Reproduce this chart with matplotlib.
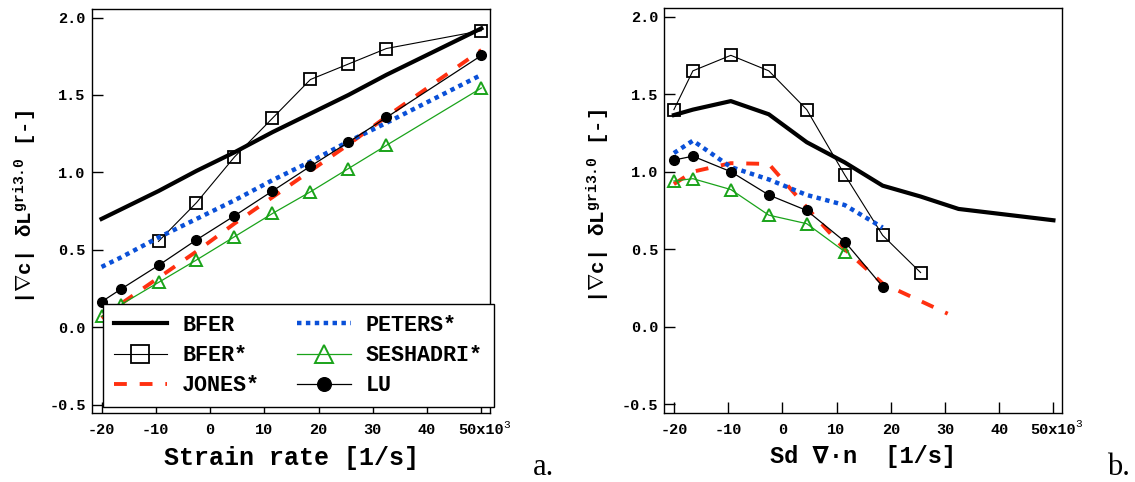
import matplotlib
matplotlib.use("Agg")
import matplotlib.pyplot as plt

# ---------------------------------------------------------------
# Data (x in 10^3 1/s)
# ---------------------------------------------------------------
x_pts = [-20, -16.5, -9.5, -2.5, 4.5, 11.5, 18.5, 25.5, 32.5, 50]

# panel a: strain rate
bfer_a = [0.70, 0.76, 0.88, 1.01, 1.13, 1.26, 1.38, 1.50, 1.63, 1.93]
bfer_star_a_x = [-9.5, -2.5, 4.5, 11.5, 18.5, 25.5, 32.5, 50]
bfer_star_a = [0.555, 0.805, 1.10, 1.35, 1.60, 1.70, 1.80, 1.915]
peters_a = [0.39, 0.45, 0.58, 0.70, 0.82, 0.95, 1.07, 1.20, 1.32, 1.63]
jones_a = [0.06, 0.15, 0.32, 0.49, 0.67, 0.84, 1.01, 1.18, 1.36, 1.79]
seshadri_a = [0.07, 0.145, 0.29, 0.435, 0.585, 0.735, 0.875, 1.025, 1.175, 1.545]
lu_a = [0.165, 0.245, 0.40, 0.565, 0.72, 0.88, 1.04, 1.195, 1.355, 1.755]

# panel b: Sd div(n)
bfer_b = [1.365, 1.40, 1.455, 1.37, 1.19, 1.06, 0.91, 0.84, 0.76, 0.687]
bfer_star_b_x = [-20, -16.5, -9.5, -2.5, 4.5, 11.5, 18.5, 25.5]
bfer_star_b = [1.40, 1.65, 1.75, 1.65, 1.40, 0.98, 0.59, 0.35]
peters_b_x = [-20, -16.5, -9.5, -2.5, 4.5, 11.5, 18.5]
peters_b = [1.12, 1.20, 1.03, 0.95, 0.85, 0.785, 0.64]
jones_b_x = [-20, -16.5, -9.5, -2.5, 4.5, 11.5, 18.5, 30.5]
jones_b = [0.92, 1.00, 1.055, 1.05, 0.77, 0.50, 0.28, 0.085]
seshadri_b_x = [-20, -16.5, -9.5, -2.5, 4.5, 11.5]
seshadri_b = [0.94, 0.955, 0.885, 0.72, 0.665, 0.485]
lu_b_x = [-20, -16.5, -9.5, -2.5, 4.5, 11.5, 18.5]
lu_b = [1.075, 1.10, 1.00, 0.85, 0.75, 0.55, 0.26]

x_ticks = [-20, -10, 0, 10, 20, 30, 40, 50]
x_ticklabels = ["-20", "-10", "0", "10", "20", "30", "40", "50x10"]
y_ticks = [-0.5, 0.0, 0.5, 1.0, 1.5, 2.0]

# ---------------------------------------------------------------
# Style
# ---------------------------------------------------------------
plt.rcParams["font.family"] = ["Liberation Mono", "DejaVu Sans"]
plt.rcParams["font.weight"] = "bold"
plt.rcParams["axes.labelweight"] = "bold"
plt.rcParams["mathtext.fontset"] = "custom"
plt.rcParams["mathtext.rm"] = "Liberation Mono"
plt.rcParams["mathtext.it"] = "Liberation Mono"
plt.rcParams["mathtext.bf"] = "Liberation Mono:bold"
plt.rcParams["mathtext.fallback"] = "cm"
plt.rcParams["axes.unicode_minus"] = False
plt.rcParams["axes.linewidth"] = 1.0

BLUE = "#0a50d8"
RED = "#ff3010"
GREEN = "#1aa31a"

ylab = "|$\\nabla$c| δL$^{\\mathrm{gri3.0}}$ [-]"

fig = plt.figure(figsize=(11.35, 4.82), dpi=100)
ax_a = fig.add_axes([0.0811, 0.1425, 0.3509, 0.8388])
ax_b = fig.add_axes([0.5854, 0.1432, 0.3506, 0.8402])


def draw_panel(ax, d):
    ax.plot(d["bfer"][0], d["bfer"][1], color="black", lw=3.0, label="BFER")
    ax.plot(d["bfer_star"][0], d["bfer_star"][1], color="black", lw=0.8,
            marker="s", ms=9, mfc="none", mec="black", mew=1.3, label="BFER*")
    ax.plot(d["jones"][0], d["jones"][1], color=RED, lw=2.8,
            dashes=(3.3, 3.3), label="JONES*")
    ax.plot(d["peters"][0], d["peters"][1], color=BLUE, lw=3.2,
            dashes=(1, 1), label="PETERS*")
    ax.plot(d["seshadri"][0], d["seshadri"][1], color=GREEN, lw=0.9,
            marker="^", ms=9, mfc="none", mec=GREEN, mew=1.4, label="SESHADRI*")
    ax.plot(d["lu"][0], d["lu"][1], color="black", lw=0.9,
            marker="o", ms=7, mfc="black", mec="black", label="LU")

    ax.set_xlim(-21.75, 51.65)
    ax.set_ylim(-0.555, 2.055)
    ax.set_xticks(x_ticks)
    ax.set_xticklabels(x_ticklabels)
    ax.set_yticks(y_ticks)
    ax.set_yticklabels(["%.1f" % v for v in y_ticks])
    ax.tick_params(axis="both", direction="in", length=7.6, width=1.0,
                   labelsize=11)
    ax.tick_params(axis="x", pad=7)
    ax.tick_params(axis="y", pad=4.6)
    # superscript of the x10^3 multiplier on the last tick label
    ax.annotate("3", xy=(50, 0), xycoords=("data", "axes fraction"),
                xytext=(15.5, -4.5), textcoords="offset points",
                fontsize=8, weight="normal", ha="left", va="top")
    ax.set_ylabel(ylab, fontsize=15)
    ax.yaxis.set_label_coords(-0.133, 0.511)
    ax.xaxis.set_label_coords(0.514, -0.08)


draw_panel(ax_a, dict(bfer=(x_pts, bfer_a), bfer_star=(bfer_star_a_x, bfer_star_a),
                      jones=(x_pts, jones_a), peters=(x_pts, peters_a),
                      seshadri=(x_pts, seshadri_a), lu=(x_pts, lu_a)))
draw_panel(ax_b, dict(bfer=(x_pts, bfer_b), bfer_star=(bfer_star_b_x, bfer_star_b),
                      jones=(jones_b_x, jones_b), peters=(peters_b_x, peters_b),
                      seshadri=(seshadri_b_x, seshadri_b), lu=(lu_b_x, lu_b)))

ax_a.set_xlabel("Strain rate [1/s]", fontsize=18)
ax_b.set_xlabel("Sd ∇·n  [1/s]", fontsize=17)

leg = ax_a.legend(loc="upper left", bbox_to_anchor=(0.0265, 0.270), ncol=2,
                  fontsize=15.7, handlelength=2.45, handletextpad=0.7,
                  columnspacing=1.7, borderpad=0.5, labelspacing=0.42,
                  markerscale=1.4, borderaxespad=0, fancybox=False,
                  framealpha=1)
leg.get_frame().set_edgecolor("black")
leg.get_frame().set_linewidth(1.0)

fig.text(533 / 1135, 1 - 475 / 482, "a.", fontsize=22, family="Liberation Serif",
         weight="normal", va="baseline")
fig.text(1107 / 1135, 1 - 475 / 482, "b.", fontsize=22, family="Liberation Serif",
         weight="normal", va="baseline")

fig.savefig("out.png", dpi=100)
